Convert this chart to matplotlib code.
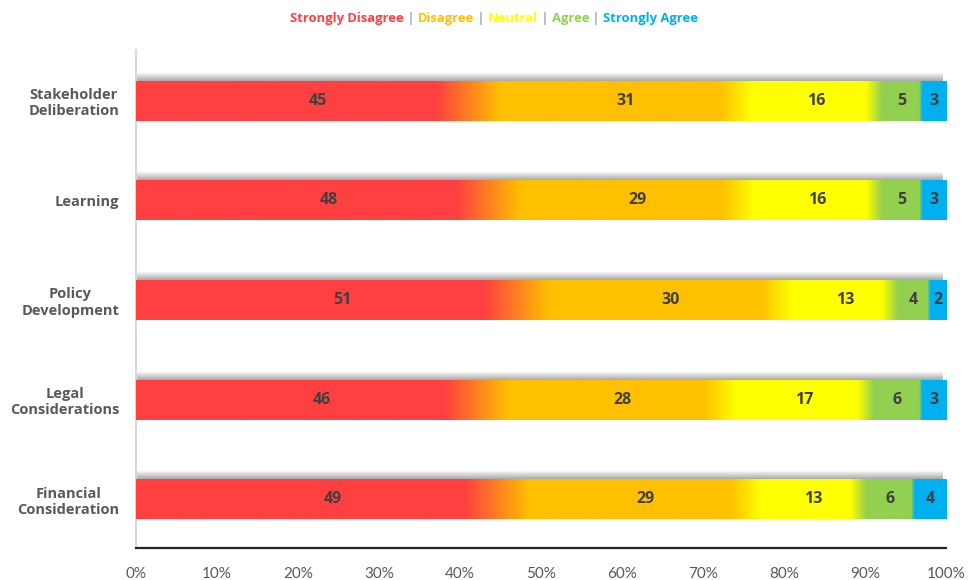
import numpy as np
import matplotlib.pyplot as plt
from matplotlib.colors import to_rgb

categories = ["Stakeholder\nDeliberation", "Learning", "Policy\nDevelopment",
              "Legal\nConsiderations", "Financial\nConsideration"]
levels = ["Strongly Disagree", "Disagree", "Neutral", "Agree", "Strongly Agree"]

strongly_disagree = [45, 48, 51, 46, 49]
disagree = [31, 29, 30, 28, 29]
neutral = [16, 16, 13, 17, 13]
agree = [5, 5, 4, 6, 6]
strongly_agree = [3, 3, 2, 3, 4]

colors = ["#FF4040", "#FFC000", "#FFFF00", "#92D050", "#00B0F0"]
# width (in % units) of the colour blend just before each boundary
blend = [8.0, 4.0, 2.0, 0.4]

fig = plt.figure(figsize=(9.79, 5.8), dpi=100)
ax = fig.add_axes([0.1389, 0.0552, 0.8274, 0.8586])

series = np.array([strongly_disagree, disagree, neutral, agree, strongly_agree], dtype=float)
shares = series / series.sum(axis=0) * 100

bar_h = 0.4
xs = np.linspace(0, 100, 2000)
cols = [np.array(to_rgb(c)) for c in colors]
for i, cat in enumerate(categories):
    y = i + 0.01
    vals = shares[:, i]
    bounds = np.cumsum(vals)
    rgb = np.zeros((1, len(xs), 3))
    for k, x in enumerate(xs):
        seg = min(np.searchsorted(bounds, x, side="right"), 4)
        c = cols[seg]
        if seg < 4:
            start = bounds[seg] - blend[seg]
            if x > start:
                t = (x - start) / blend[seg]
                c = (1 - t) * cols[seg] + t * cols[seg + 1]
        rgb[0, k] = c
    ax.imshow(rgb, extent=[0, 100, y + bar_h / 2, y - bar_h / 2],
              aspect="auto", interpolation="bilinear", zorder=3)

    # soft shadow above the bar
    sh = np.zeros((20, 2, 4))
    sh[..., :3] = 0.45
    sh[..., 3] = np.linspace(0.0, 0.6, 20)[:, None]
    ax.imshow(sh, extent=[0, 99.6, y - bar_h / 2, y - bar_h / 2 - 0.085],
              aspect="auto", interpolation="bilinear", zorder=2)

    left = 0
    for v, raw in zip(vals, series[:, i]):
        ax.text(left + v / 2, y, f"{int(raw)}", ha="center", va="center",
                fontsize=11.5, fontweight="bold", color="#404040",
                family=["Open Sans", "DejaVu Sans"], zorder=4)
        left += v

ax.set_xlim(0, 100)
ax.set_ylim(4.5, -0.5)
ax.set_yticks(np.arange(len(categories)) + 0.01)
ax.set_yticklabels(categories, fontsize=10.5, fontweight="bold", color="#595959",
                   family=["Open Sans", "DejaVu Sans"], multialignment="center")
ax.set_xticks(np.arange(0, 101, 10))
ax.set_xticklabels([f"{t}%" for t in range(0, 101, 10)], fontsize=11, color="#595959",
                   family=["Lato", "DejaVu Sans"])
ax.tick_params(axis="both", length=0)
ax.tick_params(axis="x", pad=14)
ax.tick_params(axis="y", pad=12)
for s in ["top", "right"]:
    ax.spines[s].set_visible(False)
ax.spines["left"].set_color("#D9D9D9")
ax.spines["left"].set_linewidth(1.5)
ax.spines["bottom"].set_color("#262626")
ax.spines["bottom"].set_linewidth(1.6)

# header legend made of coloured words
fig.canvas.draw()
renderer = fig.canvas.get_renderer()
parts = []
for j, (lab, col) in enumerate(zip(levels, colors)):
    if j > 0:
        parts.append((" | ", "#A6A6A6"))
    parts.append((lab, col))
texts = []
widths = []
for s, col in parts:
    t = fig.text(0, 0.968, s, fontsize=9.4, fontweight="bold", color=col,
                 family=["Open Sans", "DejaVu Sans"], ha="left", va="center")
    bb = t.get_window_extent(renderer)
    texts.append(t)
    widths.append(bb.width / fig.bbox.width)
total = sum(widths)
x0 = 494 / 979 - total / 2
for t, w in zip(texts, widths):
    t.set_x(x0)
    x0 += w

fig.savefig("out.png", dpi=100)
